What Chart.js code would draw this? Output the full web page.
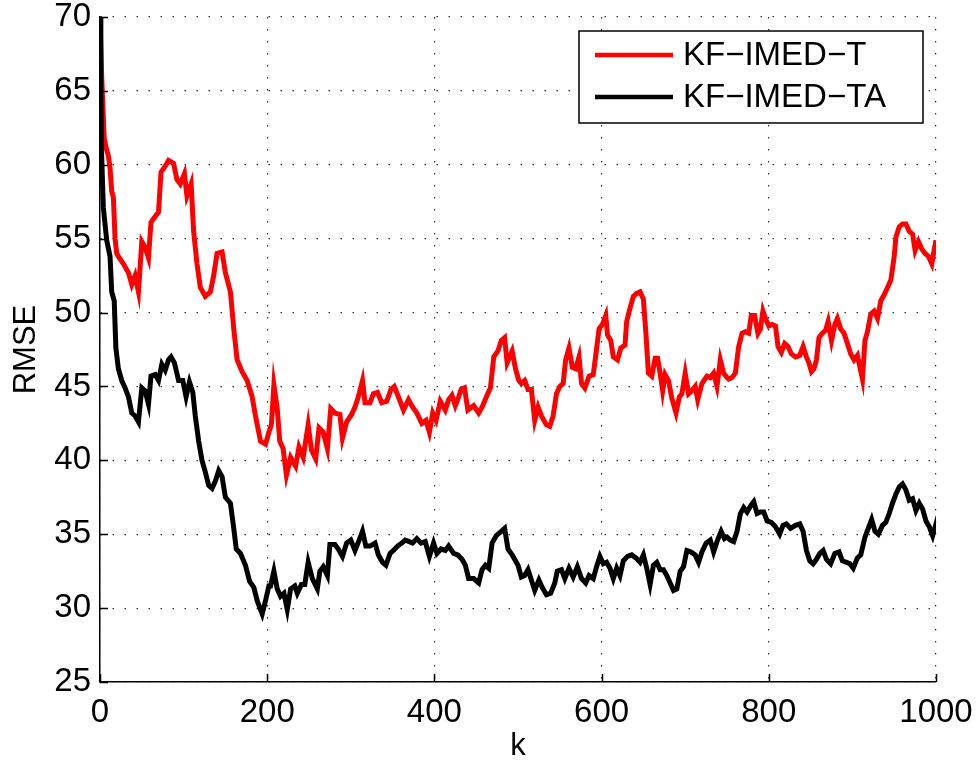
<!DOCTYPE html>
<html lang="en">

<head>
    <meta charset="UTF-8">
    <title>RMSE</title>
    <style>
        body {
            margin: 0;
            background: #fff;
        }

        #chart {
            width: 977px;
            height: 762px;
        }
    </style>
</head>

<body>
    <div id="chart">
        <canvas id="myChart" width="977" height="762"></canvas>
    </div>
    <script src="https://cdn.jsdelivr.net/npm/chart.js"></script>
    <script>
        // series names
        let names = ["KF\u2212IMED\u2212T", "KF\u2212IMED\u2212TA"]

        // KF-IMED-T (red)
        let kT = [0, 2, 5, 8, 10, 12, 14, 16, 18, 20, 22, 28, 34, 38, 42, 46, 50, 54, 58, 61, 66, 70, 73, 78, 82, 88, 92, 96, 101, 104, 109, 112, 116, 120, 126, 132, 136, 140, 146, 150, 156, 160, 164, 170, 176, 182, 186, 192, 198, 202, 205, 208, 212, 215, 219, 223, 228, 234, 238, 243, 249, 253, 258, 262, 267, 272, 276, 281, 287, 290, 295, 301, 305, 309, 314, 317, 323, 327, 332, 337, 343, 348, 352, 357, 363, 369, 374, 379, 385, 390, 394, 398, 402, 407, 413, 417, 421, 425, 429, 432, 436, 440, 447, 453, 457, 463, 467, 471, 476, 480, 484, 487, 493, 497, 501, 504, 508, 512, 516, 520, 524, 528, 534, 538, 542, 546, 550, 554, 557, 561, 565, 569, 573, 576, 580, 585, 590, 593, 597, 601, 605, 607, 611, 614, 619, 623, 628, 630, 634, 638, 642, 646, 650, 653, 656, 660, 664, 667, 670, 673, 676, 680, 684, 689, 693, 696, 700, 704, 708, 712, 715, 720, 726, 730, 734, 738, 742, 746, 750, 752, 756, 760, 764, 768, 772, 776, 779, 783, 787, 790, 793, 796, 800, 804, 808, 811, 815, 819, 823, 827, 832, 837, 841, 845, 848, 851, 854, 857, 860, 864, 868, 871, 875, 879, 882, 886, 890, 894, 898, 902, 906, 909, 912, 915, 918, 922, 926, 930, 934, 938, 942, 946, 950, 952, 956, 960, 964, 968, 972, 975, 979, 983, 987, 991, 995, 998, 1000]
        let rmseT = [70, 66, 61.8, 61, 60.6, 59.8, 58.2, 57.8, 55, 54, 53.8, 53.3, 52.7, 51.9, 52.5, 51.4, 54.8, 54.4, 53.7, 56.1, 56.5, 56.8, 59.5, 59.9, 60.3, 60.1, 59, 58.7, 59.4, 57.9, 58.7, 55.5, 53.3, 51.7, 51.1, 51.4, 52.5, 54, 54.1, 52.7, 51.4, 48.9, 46.8, 46, 45.4, 44.3, 43, 41.3, 41.1, 41.9, 42.4, 45.1, 43.5, 41.3, 40.8, 39, 40.2, 39.6, 40.9, 40.2, 42.4, 40.7, 40.1, 42.2, 41.9, 40.8, 43.5, 43.2, 43.1, 41.5, 42.6, 43.1, 43.6, 44.3, 45.4, 43.9, 43.9, 44.5, 44.6, 43.9, 44, 44.8, 45, 44.3, 43.4, 44.1, 43.6, 43.2, 42.5, 42.7, 41.9, 43.2, 42.7, 44, 43.4, 44.1, 44.4, 43.7, 44.3, 44.8, 44.9, 43.4, 43.7, 43.2, 43.6, 44.4, 44.9, 47, 47.4, 48.1, 48.3, 46.6, 47.4, 46.2, 45.4, 45.2, 45.4, 44.8, 44.8, 42.7, 43.6, 43, 42.4, 42.3, 43, 44.5, 45, 45.2, 46.8, 47.6, 46.3, 46.2, 47, 45.2, 44.9, 45.7, 45.8, 47.1, 48.9, 49.2, 49.8, 48.5, 48.1, 47, 46.8, 47.6, 47.8, 49.4, 50.3, 51.1, 51.3, 51.4, 50.9, 48.6, 45.9, 45.7, 46.9, 46.9, 45.9, 44.7, 45.8, 45.4, 44.2, 43.2, 44.3, 44.5, 45.9, 44.5, 44.7, 45, 44.1, 45.2, 45.7, 45.6, 45.9, 45, 46.8, 45.9, 45.6, 45.5, 45.6, 45.9, 47.7, 48.6, 48.7, 48.6, 49.8, 49.8, 48.6, 48.9, 50.1, 49.6, 49.1, 49.2, 49.1, 47.7, 47.3, 47.9, 47.7, 47.2, 47, 47.1, 47.7, 47, 46.6, 46, 46.2, 46.8, 48.3, 48.6, 48.8, 49.4, 48.1, 49.2, 49.6, 48.9, 48.6, 47.9, 47.2, 46.8, 47.1, 46.3, 45.5, 48.1, 48.7, 49.9, 50.1, 49.6, 50.8, 51.2, 51.7, 52.2, 53.8, 55.1, 55.8, 56, 56, 55.5, 55.3, 54.2, 54.8, 54.3, 54, 53.8, 53.3, 54.3, 54.9]

        // KF-IMED-TA (black)
        let kTA = [0, 1, 2, 4, 8, 12, 14, 17, 19, 22, 26, 30, 34, 38, 42, 46, 50, 54, 58, 61, 66, 70, 74, 78, 82, 85, 89, 94, 99, 103, 107, 111, 114, 118, 122, 126, 130, 134, 138, 142, 146, 150, 156, 160, 163, 168, 174, 179, 184, 188, 194, 198, 202, 204, 208, 212, 216, 220, 224, 228, 233, 236, 241, 245, 249, 254, 260, 263, 267, 272, 275, 281, 285, 290, 295, 300, 305, 310, 314, 318, 323, 329, 333, 338, 342, 347, 351, 356, 361, 365, 370, 374, 379, 384, 389, 394, 399, 403, 408, 413, 417, 423, 428, 433, 437, 441, 447, 453, 457, 461, 465, 469, 474, 480, 484, 488, 493, 497, 500, 504, 508, 512, 516, 520, 525, 529, 534, 539, 544, 547, 552, 556, 561, 566, 571, 576, 581, 585, 590, 594, 598, 602, 606, 610, 614, 618, 622, 626, 631, 636, 641, 646, 650, 654, 658, 662, 666, 670, 674, 678, 682, 686, 690, 694, 698, 702, 707, 712, 716, 720, 725, 730, 734, 738, 743, 747, 750, 754, 758, 762, 766, 770, 774, 778, 782, 786, 790, 794, 798, 803, 808, 813, 817, 821, 826, 832, 837, 841, 845, 849, 853, 857, 861, 865, 869, 874, 879, 884, 888, 893, 897, 901, 906, 910, 915, 919, 923, 927, 931, 936, 940, 944, 948, 952, 956, 960, 964, 968, 972, 976, 980, 984, 988, 992, 996, 999, 1000]
        let rmseTA = [70, 64.7, 60.6, 57.1, 54.9, 53.8, 51.4, 50.8, 47.6, 46.2, 45.4, 44.9, 44.3, 43.2, 43, 42.6, 44.9, 44.7, 43.8, 45.7, 45.8, 45.4, 46.5, 46.1, 46.8, 47, 46.6, 45.4, 45.4, 44.3, 45.3, 44.6, 43, 41.3, 40, 39.2, 38.3, 38.1, 38.6, 39.3, 38.9, 37.5, 37.1, 35.4, 34, 33.7, 32.9, 31.8, 31.4, 30.5, 29.6, 30.5, 31.5, 31.5, 32.5, 31.3, 30.8, 31, 29.9, 31.3, 31.5, 31, 31.6, 31.6, 33.1, 32, 31.3, 32.5, 32.8, 32.2, 34.3, 34.3, 34, 33.5, 34.4, 34.6, 33.9, 34.6, 35.2, 34.2, 34.2, 34.4, 33.6, 33.1, 32.9, 33.7, 33.9, 34.2, 34.4, 34.6, 34.5, 34.4, 34.7, 34.4, 34.5, 33.5, 34.4, 33.7, 34, 33.9, 34.2, 33.7, 33.6, 33.3, 32.9, 32, 32, 31.7, 32.6, 32.9, 32.7, 34.4, 34.9, 35.2, 35.4, 34, 33.6, 33.2, 32.9, 32.1, 32.2, 32.6, 31.9, 31.2, 31.9, 31.4, 30.9, 31, 31.7, 32.5, 32.6, 32, 32.7, 32.1, 32.8, 32, 31.7, 32.2, 32, 32.8, 33.5, 33, 33.1, 32.7, 32, 32.7, 32.2, 33.2, 33.5, 33.6, 33.4, 33.1, 33.6, 32.7, 31.6, 32.9, 33.1, 32.6, 32.6, 32.2, 31.7, 31.2, 31.3, 32.5, 32.8, 33.9, 33.8, 33.6, 33.1, 33.8, 34.4, 34.6, 33.8, 34.5, 35.2, 34.7, 34.8, 34.6, 34.5, 35.2, 36.4, 36.8, 36.5, 36.9, 37.2, 36.4, 36.5, 36.5, 35.9, 35.8, 35.5, 35, 35.6, 35.7, 35.4, 35.6, 35.7, 35.2, 33.9, 33.2, 33, 33.3, 33.7, 33.9, 33.3, 33, 33.7, 33.8, 33.2, 33.1, 33, 32.7, 33.4, 33.6, 34.8, 35.4, 36, 35.2, 35, 35.6, 35.8, 36.4, 37.1, 37.7, 38.2, 38.4, 38, 37.3, 37.4, 36.6, 37.1, 36.7, 35.9, 35.5, 34.9, 35.5, 35]

        // axis ticks
        let xTicks = [0, 200, 400, 600, 800, 1000]
        let yTicks = [25, 30, 35, 40, 45, 50, 55, 60, 65, 70]

        let font = "'Liberation Sans', Arial, Helvetica, sans-serif"

        function toPoints(xs, ys) {
            return xs.map((x, i) => ({ x: x, y: ys[i] }))
        }

        // inside tick marks + legend box drawn by hand
        let extras = {
            id: "extras",
            afterDraw(chart) {
                let c = chart.ctx
                let xs = chart.scales.x
                let ys = chart.scales.y
                let area = chart.chartArea
                c.save()
                c.strokeStyle = "#000"
                c.lineWidth = 1.5
                c.beginPath()
                yTicks.forEach(v => {
                    let py = Math.round(ys.getPixelForValue(v)) + 0.5
                    c.moveTo(area.left, py)
                    c.lineTo(area.left + 8, py)
                })
                xTicks.forEach(v => {
                    let px = Math.round(xs.getPixelForValue(v)) + 0.5
                    c.moveTo(px, area.bottom)
                    c.lineTo(px, area.bottom - 8)
                })
                c.stroke()

                // legend
                let bx = 579, by = 31, bw = 344, bh = 92
                c.fillStyle = "#fff"
                c.fillRect(bx, by, bw, bh)
                c.lineWidth = 1.5
                c.strokeRect(bx, by, bw, bh)
                let rows = [55, 97]
                chart.data.datasets.forEach((ds, i) => {
                    c.strokeStyle = ds.borderColor
                    c.lineWidth = 4.5
                    c.beginPath()
                    c.moveTo(595, rows[i])
                    c.lineTo(673, rows[i])
                    c.stroke()
                    c.fillStyle = "#000"
                    c.font = "33px " + font
                    c.textBaseline = "middle"
                    c.fillText(ds.label, 683, rows[i] + 1)
                })
                c.restore()
            }
        }

        let ctx = document.getElementById("myChart")

        let chart = new Chart(ctx, {
            type: "line",
            data: {
                datasets: [
                    {
                        label: names[0],
                        data: toPoints(kT, rmseT),
                        borderColor: "#ff0000",
                        borderWidth: 5,
                        pointRadius: 0,
                        tension: 0,
                        order: 2
                    },
                    {
                        label: names[1],
                        data: toPoints(kTA, rmseTA),
                        borderColor: "#000000",
                        borderWidth: 5,
                        pointRadius: 0,
                        tension: 0,
                        order: 1
                    }
                ]
            },
            plugins: [extras],
            options: {
                responsive: false,
                animation: false,
                layout: {
                    padding: { top: 17, right: 41, bottom: 0, left: 0 }
                },
                plugins: {
                    legend: { display: false },
                    tooltip: { enabled: false }
                },
                scales: {
                    x: {
                        type: "linear",
                        min: 0,
                        max: 1000,
                        afterBuildTicks(scale) {
                            scale.ticks = xTicks.map(v => ({ value: v }))
                        },
                        afterFit(scale) {
                            scale.height = 80
                            scale.paddingLeft = 0
                            scale.paddingRight = 0
                        },
                        grid: {
                            drawTicks: false,
                            color: "#333",
                            lineWidth: 1.2
                        },
                        border: {
                            display: true,
                            color: "#000",
                            width: 1.5,
                            dash: [1.5, 10.5]
                        },
                        ticks: {
                            padding: 11,
                            color: "#000",
                            font: { family: font, size: 33 },
                            maxRotation: 0,
                            callback: v => String(v)
                        },
                        title: {
                            display: true,
                            text: "k",
                            color: "#000",
                            font: { family: font, size: 31, lineHeight: 1 },
                            padding: { top: 0, bottom: 0 }
                        }
                    },
                    y: {
                        type: "linear",
                        min: 25,
                        max: 70,
                        afterBuildTicks(scale) {
                            scale.ticks = yTicks.map(v => ({ value: v }))
                        },
                        afterFit(scale) {
                            scale.width = 100
                            scale.paddingTop = 0
                            scale.paddingBottom = 0
                        },
                        grid: {
                            drawTicks: false,
                            color: "#333",
                            lineWidth: 1.2
                        },
                        border: {
                            display: true,
                            color: "#000",
                            width: 1.5,
                            dash: [1.5, 10.5]
                        },
                        ticks: {
                            padding: 9,
                            color: "#000",
                            font: { family: font, size: 33 },
                            callback: v => String(v)
                        },
                        title: {
                            display: true,
                            text: "RMSE",
                            color: "#000",
                            font: { family: font, size: 31 },
                            padding: { top: 8, bottom: 0 }
                        }
                    }
                }
            }
        })
    </script>
</body>

</html>
